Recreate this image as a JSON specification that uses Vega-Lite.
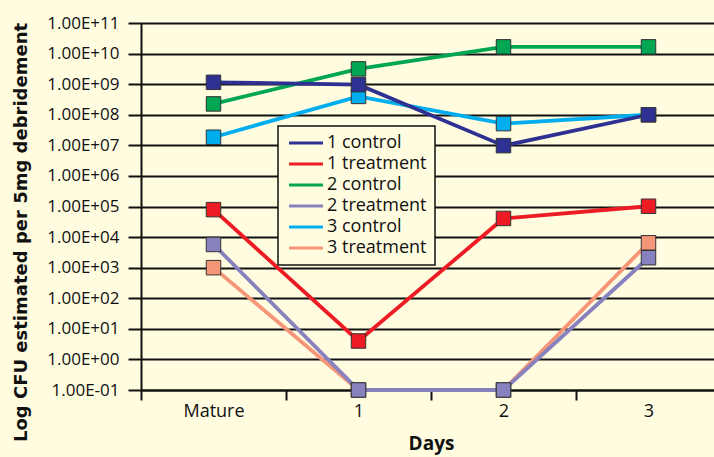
{
  "$schema": "https://vega.github.io/schema/vega-lite/v6.json",
  "autosize": {"type": "none"},
  "width": 573,
  "height": 367,
  "padding": {"left": 141, "top": 23, "right": 0, "bottom": 67},
  "background": "#FFFCE0",
  "config": {
    "view": {"stroke": null},
    "font": "Open Sans",
    "axis": {"labelFont": "Open Sans", "titleFont": "Open Sans", "labelColor": "#111", "titleColor": "#111"}
  },
  "data": {
    "values": [
      {"day": "Mature", "series": "3 control", "cfu": 1.84e7},
      {"day": "1", "series": "3 control", "cfu": 3.98e8},
      {"day": "2", "series": "3 control", "cfu": 5.13e7},
      {"day": "3", "series": "3 control", "cfu": 1.0e8},
      {"day": "Mature", "series": "2 control", "cfu": 2.26e8},
      {"day": "1", "series": "2 control", "cfu": 3.16e9},
      {"day": "2", "series": "2 control", "cfu": 1.66e10},
      {"day": "3", "series": "2 control", "cfu": 1.66e10},
      {"day": "Mature", "series": "1 control", "cfu": 1.15e9},
      {"day": "1", "series": "1 control", "cfu": 9.66e8},
      {"day": "2", "series": "1 control", "cfu": 9.77e6},
      {"day": "3", "series": "1 control", "cfu": 1.0e8},
      {"day": "Mature", "series": "1 treatment", "cfu": 7.9e4},
      {"day": "1", "series": "1 treatment", "cfu": 4.0},
      {"day": "2", "series": "1 treatment", "cfu": 4.07e4},
      {"day": "3", "series": "1 treatment", "cfu": 1.02e5},
      {"day": "Mature", "series": "3 treatment", "cfu": 1.0e3},
      {"day": "1", "series": "3 treatment", "cfu": 0.1},
      {"day": "2", "series": "3 treatment", "cfu": 0.1},
      {"day": "3", "series": "3 treatment", "cfu": 6.5e3},
      {"day": "Mature", "series": "2 treatment", "cfu": 5.75e3},
      {"day": "1", "series": "2 treatment", "cfu": 0.1},
      {"day": "2", "series": "2 treatment", "cfu": 0.1},
      {"day": "3", "series": "2 treatment", "cfu": 2.11e3}
    ]
  },
  "encoding": {
    "x": {
      "field": "day", "type": "nominal", "sort": ["Mature", "1", "2", "3"],
      "scale": {"type": "band", "domain": ["Mature", "1", "2", "3"], "range": [0, 580], "paddingInner": 0, "paddingOuter": 0},
      "axis": {
        "title": "Days", "titleFontSize": 19, "titleFontWeight": "bold", "titlePadding": 14, "titleX": 290,
        "labelAngle": 0, "labelFontSize": 18, "labelPadding": 2,
        "tickBand": "extent", "tickSize": 10, "tickWidth": 2, "tickColor": "#111",
        "domainColor": "#111", "domainWidth": 2, "grid": false
      }
    },
    "y": {
      "field": "cfu", "type": "quantitative",
      "scale": {"type": "log", "domain": [0.1, 1e11], "nice": false},
      "axis": {
        "title": "Log CFU estimated per 5mg debridement", "titleFont": "DejaVu Sans", "titleFontSize": 18, "titleFontWeight": "bold", "titlePadding": 16, "titleY": 209,
        "values": [0.1, 1, 10, 100, 1000, 10000, 100000, 1000000, 10000000, 100000000, 1000000000, 10000000000, 100000000000],
        "labelExpr": "'1.00E' + (round(log(datum.value)/LN10) < 0 ? '-' : '+') + (abs(round(log(datum.value)/LN10)) < 10 ? '0' : '') + abs(round(log(datum.value)/LN10))",
        "labelFontSize": 17, "labelPadding": 9,
        "tickSize": 13, "tickWidth": 2, "tickColor": "#111",
        "grid": true, "gridColor": "#111", "gridWidth": 2, "gridOpacity": 1,
        "domainColor": "#111", "domainWidth": 2
      }
    }
  },
  "layer": [
    {
      "mark": {"type": "line", "strokeWidth": 3.8},
      "encoding": {
        "color": {
          "field": "series", "type": "nominal",
          "scale": {
            "domain": ["1 control", "1 treatment", "2 control", "2 treatment", "3 control", "3 treatment"],
            "range": ["#2E3192", "#ED1C24", "#00A651", "#8781BD", "#00AEEF", "#F69679"]
          },
          "legend": {
            "title": null, "orient": "none", "legendX": 137, "legendY": 103,
            "symbolType": "M-3,0H3", "symbolSize": 128, "symbolStrokeWidth": 3, "symbolOffset": 11,
            "labelOffset": 12, "labelFontSize": 18, "labelFont": "Open Sans", "labelColor": "#111",
            "rowPadding": 3, "padding": 8,
            "strokeColor": "#111", "fillColor": "#FFFCE0",
            "encode": {"legend": {"update": {"strokeWidth": {"value": 1.5}}}}
          }
        }
      }
    },
    {
      "mark": {"type": "point", "shape": "square", "size": 210, "filled": true, "stroke": "#333", "strokeWidth": 1, "opacity": 1},
      "encoding": {
        "fill": {
          "field": "series", "type": "nominal",
          "scale": {
            "domain": ["1 control", "1 treatment", "2 control", "2 treatment", "3 control", "3 treatment"],
            "range": ["#2E3192", "#ED1C24", "#00A651", "#8781BD", "#00AEEF", "#F69679"]
          },
          "legend": null
        }
      }
    }
  ]
}
